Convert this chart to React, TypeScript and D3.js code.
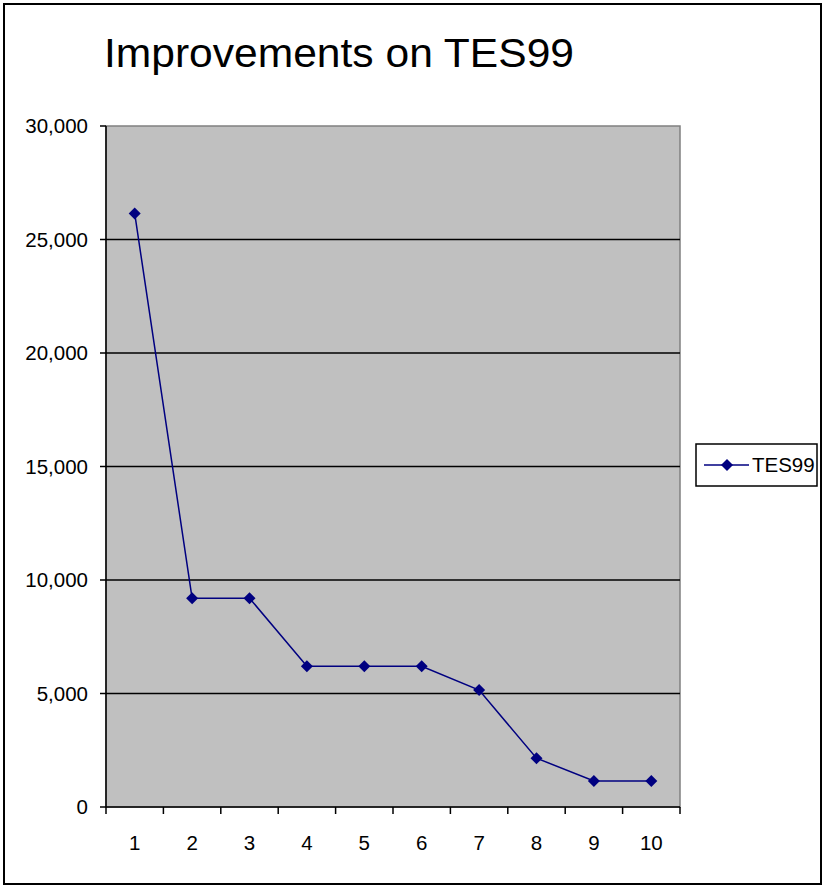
import React from 'react';
import { scaleBand, scaleLinear, line, format } from 'd3';

const categories = ['1', '2', '3', '4', '5', '6', '7', '8', '9', '10'];
const tes99 = [26150, 9200, 9200, 6200, 6200, 6200, 5150, 2150, 1150, 1150];
const yTicks = [0, 5000, 10000, 15000, 20000, 25000, 30000];
const seriesName = 'TES99';
const title = 'Improvements on TES99';

const W = 826;
const H = 886;
const plot = { left: 106, right: 680, top: 126, bottom: 807 };
const navy = '#000080';
const font = 'Arial, "Liberation Sans", sans-serif';

// square diamond marker, same width and height
const diamond = 'M0,-6L6,0L0,6L-6,0Z';

const App = () => {
  const x = scaleBand().domain(categories).range([plot.left, plot.right]);
  const y = scaleLinear().domain([0, 30000]).range([plot.bottom, plot.top]);
  const fmt = format(',');
  const cx = (i: number) => (x(categories[i]) as number) + x.bandwidth() / 2;

  const path = line<number>()
    .x((_, i) => cx(i))
    .y((d) => y(d));

  return (
    <svg width={W} height={H} style={{ position: 'absolute', left: 0, top: 0 }} fontFamily={font}>
      <rect x={0} y={0} width={W} height={H} fill="#fff" />
      <rect x={4} y={4} width={817} height={880} fill="none" stroke="#000" strokeWidth={2} />
      <text x={104} y={67} fontSize={41} textLength={470} lengthAdjust="spacingAndGlyphs">{title}</text>

      <rect
        x={plot.left}
        y={plot.top}
        width={plot.right - plot.left}
        height={plot.bottom - plot.top}
        fill="#C0C0C0"
        stroke="#808080"
        strokeWidth={1.5}
      />
      {yTicks.slice(1, -1).map((t) => (
        <line key={t} x1={plot.left} x2={plot.right} y1={y(t)} y2={y(t)} stroke="#000" strokeWidth={1.5} />
      ))}

      {/* y axis */}
      <line x1={plot.left} x2={plot.left} y1={plot.top} y2={plot.bottom} stroke="#000" strokeWidth={1.5} />
      {yTicks.map((t) => (
        <g key={t}>
          <line x1={plot.left - 6} x2={plot.left} y1={y(t)} y2={y(t)} stroke="#000" strokeWidth={1.5} />
          <text x={88} y={y(t)} dy="0.36em" textAnchor="end" fontSize={20.5}>{fmt(t)}</text>
        </g>
      ))}

      {/* x axis */}
      <line x1={plot.left} x2={plot.right} y1={plot.bottom} y2={plot.bottom} stroke="#000" strokeWidth={1.5} />
      {[...categories.map((c) => x(c) as number), plot.right].map((px, i) => (
        <line key={'t' + i} x1={px} x2={px} y1={plot.bottom} y2={plot.bottom + 7} stroke="#000" strokeWidth={1.5} />
      ))}
      {categories.map((c, i) => (
        <text key={c} x={cx(i)} y={843} dy="0.36em" textAnchor="middle" fontSize={20.5}>
          {c}
        </text>
      ))}

      <path d={path(tes99) as string} fill="none" stroke={navy} strokeWidth={1.5} />
      {tes99.map((v, i) => (
        <path key={i} d={diamond} transform={`translate(${cx(i)},${y(v)})`} fill={navy} />
      ))}

      {/* legend */}
      <rect x={696} y={444} width={121} height={42} fill="#fff" stroke="#000" strokeWidth={1.5} />
      <line x1={704} x2={749} y1={465} y2={465} stroke={navy} strokeWidth={1.5} />
      <path d={diamond} transform="translate(727,465)" fill={navy} />
      <text x={752} y={465} dy="0.36em" fontSize={20.5}>{seriesName}</text>
    </svg>
  );
};

export default App;
